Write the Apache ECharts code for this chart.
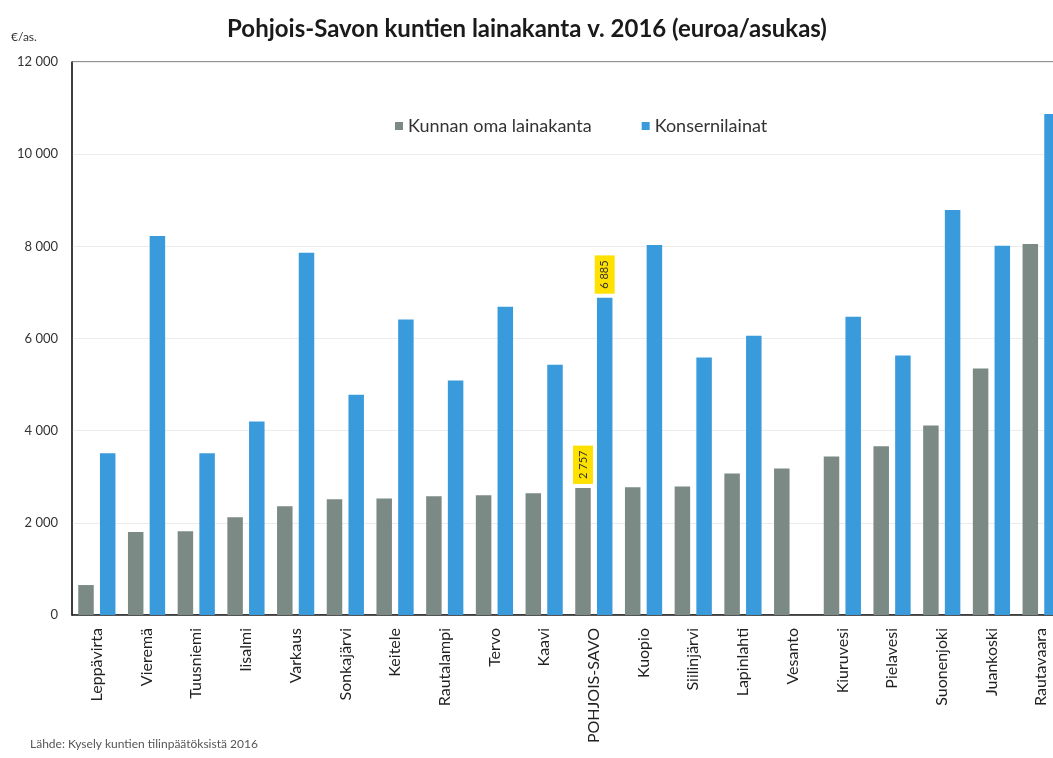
<!DOCTYPE html>
<html>
<head>
<meta charset="utf-8">
<script src="https://cdn.jsdelivr.net/npm/echarts@6/dist/echarts.min.js"></script>
<style>
html,body{margin:0;padding:0;background:#fff;}
#chart{width:1053px;height:758px;}
</style>
</head>
<body>
<div id="chart"></div>
<script>
const categories = ["Leppävirta","Vieremä","Tuusniemi","Iisalmi","Varkaus","Sonkajärvi","Keitele","Rautalampi","Tervo","Kaavi","POHJOIS-SAVO","Kuopio","Siilinjärvi","Lapinlahti","Vesanto","Kiuruvesi","Pielavesi","Suonenjoki","Juankoski","Rautavaara"];
const kunnanOma = [650,1800,1820,2120,2360,2510,2530,2575,2600,2640,2757,2770,2790,3070,3180,3440,3660,4110,5350,8050];
const konserni = [3510,8225,3510,4200,7860,4780,6410,5090,6690,5430,6885,8030,5585,6060,null,6470,5630,8790,8010,10870];
const yTicks = [0,2000,4000,6000,8000,10000,12000];
const seriesNames = ["Kunnan oma lainakanta","Konsernilainat"];
const highlightIndex = 10;

const fmt = v => String(v).replace(/\B(?=(\d{3})+(?!\d))/g, ' ');
const FONT = 'Lato';

const yellowLabel = {
  show: true, position: 'top', rotate: 90, align: 'left', verticalAlign: 'middle',
  distance: 4, backgroundColor: '#ffe100', padding: [5,5,4,5],
  color: '#333', fontSize: 11, fontFamily: FONT,
  formatter: p => fmt(p.value)
};
const mk = arr => arr.map((v,i) => i === highlightIndex ? {value: v, label: yellowLabel} : v);

const chart = echarts.init(document.getElementById('chart'), null, {renderer:'canvas'});
chart.setOption({
  animation: false,
  backgroundColor: '#fff',
  title: {
    text: 'Pohjois-Savon kuntien lainakanta v. 2016 (euroa/asukas)',
    left: 522, textAlign: 'center', top: 12,
    textStyle: {fontFamily: FONT, fontSize: 24, fontWeight: 'bold', color: '#1a1a1a'}
  },
  graphic: [
    {type:'text', left: 11, top: 31, style:{text:'€/as.', font: '12px ' + FONT, fill:'#333'}},
    {type:'text', left: 30, top: 738, style:{text:'Lähde: Kysely kuntien tilinpäätöksistä 2016', font: '12px ' + FONT, fill:'#555'}}
  ],
  legend: {
    data: seriesNames, left: 390, top: 112, icon: 'rect', itemWidth: 8, itemHeight: 8, itemGap: 50,
    textStyle: {fontFamily: FONT, fontSize: 18, color: '#333'}
  },
  grid: {left: 72, right: -13, top: 62, bottom: 143, show: true, borderColor: '#222', borderWidth: 1,
         containLabel: false, outerBoundsMode: 'none'},
  xAxis: {
    type: 'category', data: categories,
    axisLine: {lineStyle: {color: '#222', width: 1.5}},
    axisTick: {show: false},
    axisLabel: {interval: 0, rotate: 90, margin: 13, fontFamily: FONT, fontSize: 16, color: '#222'}
  },
  yAxis: {
    type: 'value', min: 0, max: 12000, interval: 2000,
    axisLine: {show: true, lineStyle: {color: '#222', width: 1.5}},
    axisTick: {show: false},
    splitLine: {lineStyle: {color: '#ececec'}},
    axisLabel: {margin: 14, fontFamily: FONT, fontSize: 13, color: '#333', formatter: v => fmt(v)}
  },
  series: [
    {name: seriesNames[0], type: 'bar', data: mk(kunnanOma), barWidth: 15.5, barGap: '40%', itemStyle: {color: '#7b8a84'}},
    {name: seriesNames[1], type: 'bar', data: mk(konserni), barWidth: 15.5, barGap: '40%', itemStyle: {color: '#3a9bdc'}}
  ]
});
</script>
</body>
</html>
